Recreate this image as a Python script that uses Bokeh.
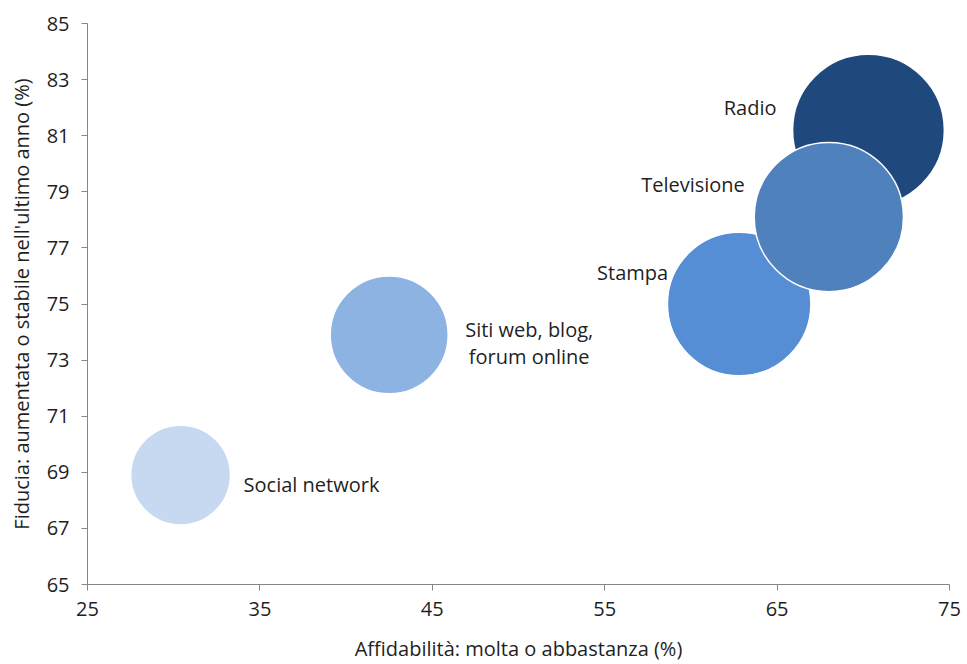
import numpy as np
from bokeh.plotting import figure
from bokeh.models import ColumnDataSource, FixedTicker, Range1d
from bokeh.core.properties import value
from bokeh.embed import file_html
from bokeh.resources import INLINE

# ---- data ----
media = ["Social network", "Siti web, blog,\nforum online", "Stampa", "Radio", "Televisione"]
affidabilita = [30.4, 42.5, 62.8, 70.3, 68.0]   # x, also bubble size
fiducia = [68.9, 73.9, 75.0, 81.2, 78.1]        # y
colors = ["#C6D9F1", "#8DB3E2", "#558ED5", "#1F497D", "#4F81BD"]
x_ticks = [25, 35, 45, 55, 65, 75]
y_ticks = [65, 67, 69, 71, 73, 75, 77, 79, 81, 83, 85]

# label placement (screen px offsets from the bubble centre) and alignment
label_dx = [63, 140, -71, -92, -84]
label_dy = [9, 8, -32, -23, -33]
label_align = ["left", "center", "right", "right", "right"]

FONT = "Open Sans"
FS = "20px"
TXT = "#1f1f1f"
AX = "#868686"

p = figure(width=967, height=664, output_backend="svg", toolbar_location=None,
           x_range=Range1d(25, 75), y_range=Range1d(65, 85),
           min_border_left=87, min_border_right=18, min_border_top=23, min_border_bottom=78)
p.outline_line_color = None
p.xgrid.visible = False
p.ygrid.visible = False
p.background_fill_color = "white"
p.border_fill_color = "white"

src = ColumnDataSource(dict(x=affidabilita, y=fiducia, c=colors,
                            s=[18.1 * np.sqrt(v) for v in affidabilita]))
p.scatter("x", "y", size="s", fill_color="c", line_color="white", line_width=1.5, source=src)

for i, name in enumerate(media):
    p.text(x=[affidabilita[i]], y=[fiducia[i]], text=[name],
           x_offset=label_dx[i], y_offset=label_dy[i],
           text_align=label_align[i], text_baseline="middle",
           text_font=value(FONT), text_font_size=FS, text_color=TXT,
           text_line_height=1.0)

for ax, ticks in ((p.xaxis[0], x_ticks), (p.yaxis[0], y_ticks)):
    ax.ticker = FixedTicker(ticks=ticks)
    ax.minor_tick_line_color = None
    ax.axis_line_color = AX
    ax.major_tick_line_color = AX
    ax.major_tick_out = 6
    ax.major_tick_in = 0
    ax.major_label_text_font = FONT
    ax.major_label_text_font_size = FS
    ax.major_label_text_color = TXT
    ax.axis_label_text_font = FONT
    ax.axis_label_text_font_size = FS
    ax.axis_label_text_font_style = "normal"
    ax.axis_label_text_color = TXT

p.xaxis.axis_label = "Affidabilità: molta o abbastanza (%)"
p.yaxis.axis_label = "Fiducia: aumentata o stabile nell'ultimo anno (%)"
p.xaxis.major_label_standoff = 11
p.yaxis.major_label_standoff = 12
p.xaxis.axis_label_standoff = 16
p.yaxis.axis_label_standoff = 9

open("out.html", "w").write(file_html(p, INLINE))
